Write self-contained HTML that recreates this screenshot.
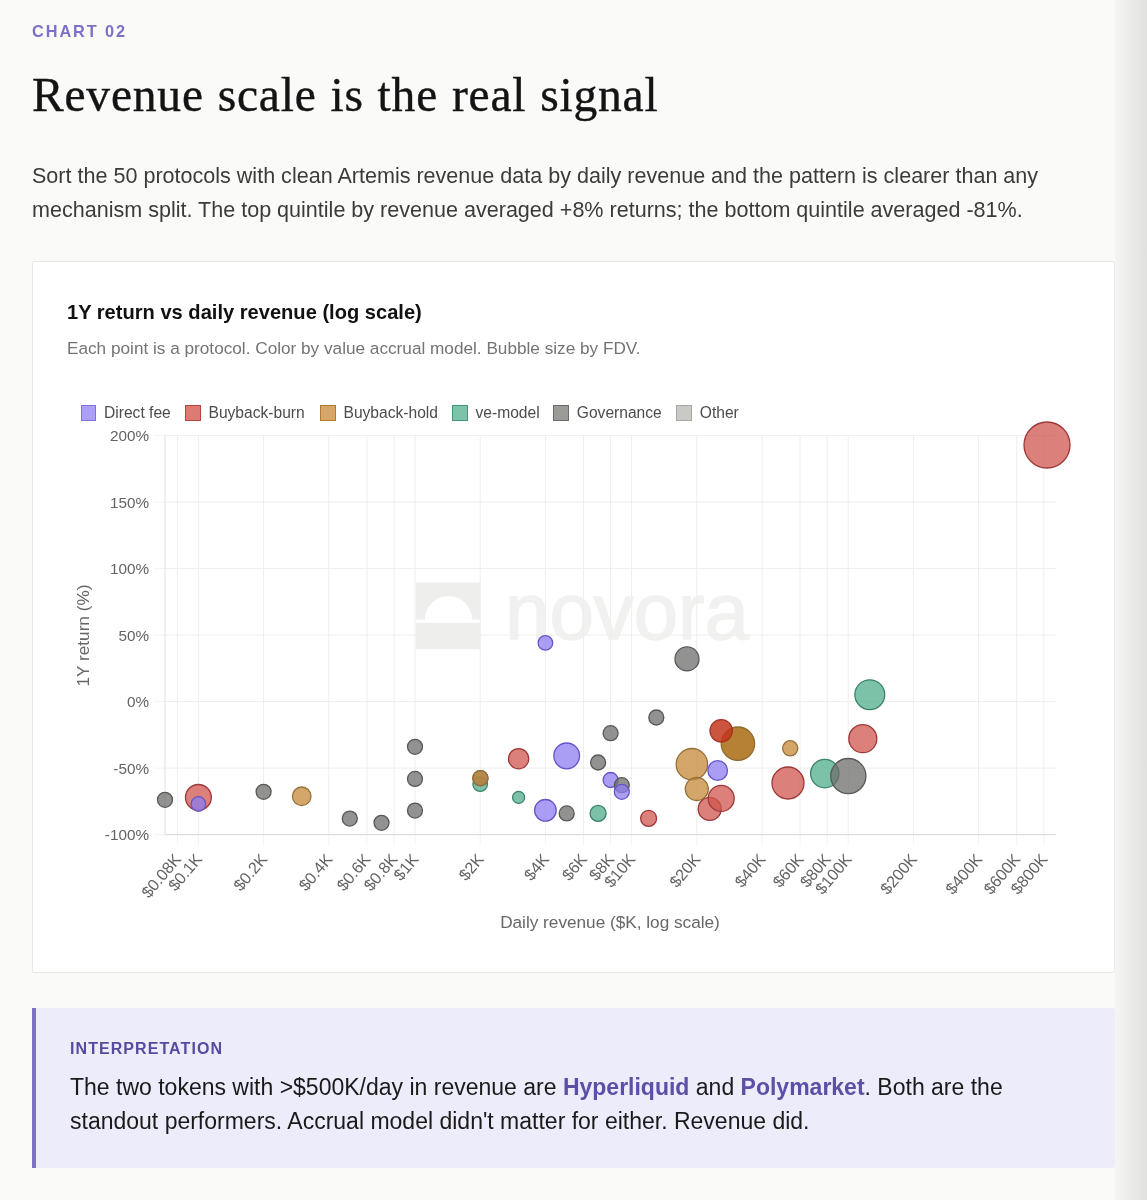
<!DOCTYPE html>
<html lang="en"><head><meta charset="utf-8"><title>Chart 02 - Revenue scale is the real signal</title>
<style>
*{box-sizing:border-box;margin:0;padding:0}
html,body{width:1147px;height:1200px;overflow:hidden}
body{background:#fafaf8;font-family:"Liberation Sans",Arial,Helvetica,sans-serif;position:relative;color:#1a1a1a}
.edge{position:absolute;left:1115px;top:0;width:32px;height:1200px;background:linear-gradient(90deg,#f5f5f3 0%,#f0f0ee 25%,#e9e9e7 60%,#dfdfdd 100%)}
.kicker{position:absolute;left:32px;top:20.5px;font-size:16.3px;line-height:20px;font-weight:700;letter-spacing:1.93px;color:#7d70c8}
h1{position:absolute;left:32px;top:62.7px;font-family:"Liberation Serif","Times New Roman",serif;font-weight:400;font-size:47.5px;line-height:64px;color:#141414;white-space:nowrap;letter-spacing:.8px;word-spacing:1.2px;-webkit-text-stroke:.4px #141414}
.lede{position:absolute;left:32px;top:159.2px;width:1060px;font-size:21.55px;line-height:34.1px;color:#3b3b3b}
.lede span{display:block;white-space:nowrap}
.card{position:absolute;left:32px;top:261px;width:1083px;height:712px;background:#fff;border:1px solid #e9e9e6;border-radius:2px}
.ctitle{position:absolute;left:67px;top:300px;font-size:20.1px;line-height:24px;font-weight:700;color:#111;white-space:nowrap}
.csub{position:absolute;left:67px;top:337px;font-size:17.2px;line-height:22px;color:#747472;white-space:nowrap}
.legend{position:absolute;left:0;top:0}
.lg{position:absolute;top:403px;height:20px;font-size:15.6px;line-height:20px;color:#4c4c4c;white-space:nowrap}
.lg i{position:absolute;left:0;top:2px;width:15.5px;height:15.5px;border:1px solid}
.lg b{position:absolute;left:23.5px;top:0;font-weight:400}
svg.chart{position:absolute;left:0;top:0}
svg.chart text{font-family:"Liberation Sans",Arial,sans-serif}
svg.chart .tk{font-size:16.2px;fill:#646464}
svg.chart .ax{font-size:17.2px;fill:#676767}
svg.chart .ty{font-size:15.3px}
.note{position:absolute;left:32px;top:1008px;width:1083px;height:160px;background:#edecfb;border-left:4px solid #7d70c8;border-radius:0 3px 3px 0}
.nlabel{position:absolute;left:70px;top:1038.6px;font-size:16px;line-height:20px;font-weight:700;letter-spacing:1.07px;color:#564b9f;white-space:nowrap}
.ntext{position:absolute;left:70px;top:1069.6px;font-size:23px;line-height:34.5px;color:#1a1a1a}
.ntext span{display:block;white-space:nowrap}
.ntext strong{color:#5b4fa6;font-weight:700}
</style></head><body>
<div class="edge"></div>
<div class="kicker">CHART 02</div>
<h1>Revenue scale is the real signal</h1>
<p class="lede"><span>Sort the 50 protocols with clean Artemis revenue data by daily revenue and the pattern is clearer than any</span><span>mechanism split. The top quintile by revenue averaged +8% returns; the bottom quintile averaged -81%.</span></p>
<div class="card"></div>
<div class="ctitle">1Y return vs daily revenue (log scale)</div>
<div class="csub">Each point is a protocol. Color by value accrual model. Bubble size by FDV.</div>
<svg class="chart" width="1147" height="1200" viewBox="0 0 1147 1200">
<g class="wm"><path fill="#eeeeed" fill-rule="evenodd" d="M415.8 582.5h64.5v66.8h-64.5z M415.8 619.5 h9.2 a23.5 23.5 0 0 1 47 0 h8.3 v3.3 h-64.5z"/><text x="505" y="638.5" font-size="79" fill="#f1f1f0" stroke="#f1f1f0" stroke-width="1.5" stroke-linejoin="round" textLength="244" lengthAdjust="spacingAndGlyphs">novora</text></g>
<line x1="177.4" y1="435.6" x2="177.4" y2="834.6" stroke="#efeeeb" stroke-width="1"/>
<line x1="177.4" y1="834.6" x2="177.4" y2="845.6" stroke="#f5f4f2" stroke-width="1"/>
<line x1="198.4" y1="435.6" x2="198.4" y2="834.6" stroke="#efeeeb" stroke-width="1"/>
<line x1="198.4" y1="834.6" x2="198.4" y2="845.6" stroke="#f5f4f2" stroke-width="1"/>
<line x1="263.6" y1="435.6" x2="263.6" y2="834.6" stroke="#efeeeb" stroke-width="1"/>
<line x1="263.6" y1="834.6" x2="263.6" y2="845.6" stroke="#f5f4f2" stroke-width="1"/>
<line x1="328.8" y1="435.6" x2="328.8" y2="834.6" stroke="#efeeeb" stroke-width="1"/>
<line x1="328.8" y1="834.6" x2="328.8" y2="845.6" stroke="#f5f4f2" stroke-width="1"/>
<line x1="366.9" y1="435.6" x2="366.9" y2="834.6" stroke="#efeeeb" stroke-width="1"/>
<line x1="366.9" y1="834.6" x2="366.9" y2="845.6" stroke="#f5f4f2" stroke-width="1"/>
<line x1="394.0" y1="435.6" x2="394.0" y2="834.6" stroke="#efeeeb" stroke-width="1"/>
<line x1="394.0" y1="834.6" x2="394.0" y2="845.6" stroke="#f5f4f2" stroke-width="1"/>
<line x1="415.0" y1="435.6" x2="415.0" y2="834.6" stroke="#efeeeb" stroke-width="1"/>
<line x1="415.0" y1="834.6" x2="415.0" y2="845.6" stroke="#f5f4f2" stroke-width="1"/>
<line x1="480.2" y1="435.6" x2="480.2" y2="834.6" stroke="#efeeeb" stroke-width="1"/>
<line x1="480.2" y1="834.6" x2="480.2" y2="845.6" stroke="#f5f4f2" stroke-width="1"/>
<line x1="545.4" y1="435.6" x2="545.4" y2="834.6" stroke="#efeeeb" stroke-width="1"/>
<line x1="545.4" y1="834.6" x2="545.4" y2="845.6" stroke="#f5f4f2" stroke-width="1"/>
<line x1="583.5" y1="435.6" x2="583.5" y2="834.6" stroke="#efeeeb" stroke-width="1"/>
<line x1="583.5" y1="834.6" x2="583.5" y2="845.6" stroke="#f5f4f2" stroke-width="1"/>
<line x1="610.6" y1="435.6" x2="610.6" y2="834.6" stroke="#efeeeb" stroke-width="1"/>
<line x1="610.6" y1="834.6" x2="610.6" y2="845.6" stroke="#f5f4f2" stroke-width="1"/>
<line x1="631.6" y1="435.6" x2="631.6" y2="834.6" stroke="#efeeeb" stroke-width="1"/>
<line x1="631.6" y1="834.6" x2="631.6" y2="845.6" stroke="#f5f4f2" stroke-width="1"/>
<line x1="696.8" y1="435.6" x2="696.8" y2="834.6" stroke="#efeeeb" stroke-width="1"/>
<line x1="696.8" y1="834.6" x2="696.8" y2="845.6" stroke="#f5f4f2" stroke-width="1"/>
<line x1="762.0" y1="435.6" x2="762.0" y2="834.6" stroke="#efeeeb" stroke-width="1"/>
<line x1="762.0" y1="834.6" x2="762.0" y2="845.6" stroke="#f5f4f2" stroke-width="1"/>
<line x1="800.1" y1="435.6" x2="800.1" y2="834.6" stroke="#efeeeb" stroke-width="1"/>
<line x1="800.1" y1="834.6" x2="800.1" y2="845.6" stroke="#f5f4f2" stroke-width="1"/>
<line x1="827.2" y1="435.6" x2="827.2" y2="834.6" stroke="#efeeeb" stroke-width="1"/>
<line x1="827.2" y1="834.6" x2="827.2" y2="845.6" stroke="#f5f4f2" stroke-width="1"/>
<line x1="848.2" y1="435.6" x2="848.2" y2="834.6" stroke="#efeeeb" stroke-width="1"/>
<line x1="848.2" y1="834.6" x2="848.2" y2="845.6" stroke="#f5f4f2" stroke-width="1"/>
<line x1="913.4" y1="435.6" x2="913.4" y2="834.6" stroke="#efeeeb" stroke-width="1"/>
<line x1="913.4" y1="834.6" x2="913.4" y2="845.6" stroke="#f5f4f2" stroke-width="1"/>
<line x1="978.6" y1="435.6" x2="978.6" y2="834.6" stroke="#efeeeb" stroke-width="1"/>
<line x1="978.6" y1="834.6" x2="978.6" y2="845.6" stroke="#f5f4f2" stroke-width="1"/>
<line x1="1016.7" y1="435.6" x2="1016.7" y2="834.6" stroke="#efeeeb" stroke-width="1"/>
<line x1="1016.7" y1="834.6" x2="1016.7" y2="845.6" stroke="#f5f4f2" stroke-width="1"/>
<line x1="1043.8" y1="435.6" x2="1043.8" y2="834.6" stroke="#efeeeb" stroke-width="1"/>
<line x1="1043.8" y1="834.6" x2="1043.8" y2="845.6" stroke="#f5f4f2" stroke-width="1"/>
<line x1="165.0" y1="435.6" x2="1055.6" y2="435.6" stroke="#efeeeb" stroke-width="1"/>
<line x1="154.0" y1="435.6" x2="165.0" y2="435.6" stroke="#f5f4f2" stroke-width="1"/>
<line x1="165.0" y1="502.1" x2="1055.6" y2="502.1" stroke="#efeeeb" stroke-width="1"/>
<line x1="154.0" y1="502.1" x2="165.0" y2="502.1" stroke="#f5f4f2" stroke-width="1"/>
<line x1="165.0" y1="568.6" x2="1055.6" y2="568.6" stroke="#efeeeb" stroke-width="1"/>
<line x1="154.0" y1="568.6" x2="165.0" y2="568.6" stroke="#f5f4f2" stroke-width="1"/>
<line x1="165.0" y1="635.1" x2="1055.6" y2="635.1" stroke="#efeeeb" stroke-width="1"/>
<line x1="154.0" y1="635.1" x2="165.0" y2="635.1" stroke="#f5f4f2" stroke-width="1"/>
<line x1="165.0" y1="701.6" x2="1055.6" y2="701.6" stroke="#efeeeb" stroke-width="1"/>
<line x1="154.0" y1="701.6" x2="165.0" y2="701.6" stroke="#f5f4f2" stroke-width="1"/>
<line x1="165.0" y1="768.1" x2="1055.6" y2="768.1" stroke="#efeeeb" stroke-width="1"/>
<line x1="154.0" y1="768.1" x2="165.0" y2="768.1" stroke="#f5f4f2" stroke-width="1"/>
<line x1="165.0" y1="834.6" x2="1055.6" y2="834.6" stroke="#efeeeb" stroke-width="1"/>
<line x1="154.0" y1="834.6" x2="165.0" y2="834.6" stroke="#f5f4f2" stroke-width="1"/>
<line x1="165.0" y1="435.6" x2="165.0" y2="834.6" stroke="#e6e5e2" stroke-width="1.2"/>
<line x1="165.0" y1="834.6" x2="1055.6" y2="834.6" stroke="#dfdedb" stroke-width="1.4"/>
<text class="tk ty" x="149" y="441.4" text-anchor="end">200%</text>
<text class="tk ty" x="149" y="507.9" text-anchor="end">150%</text>
<text class="tk ty" x="149" y="574.4" text-anchor="end">100%</text>
<text class="tk ty" x="149" y="640.9" text-anchor="end">50%</text>
<text class="tk ty" x="149" y="707.4" text-anchor="end">0%</text>
<text class="tk ty" x="149" y="773.9" text-anchor="end">-50%</text>
<text class="tk ty" x="149" y="840.4" text-anchor="end">-100%</text>
<text class="tk" transform="translate(178.1,856.4) rotate(-50)" text-anchor="end" y="5">$0.08K</text>
<text class="tk" transform="translate(199.1,856.4) rotate(-50)" text-anchor="end" y="5">$0.1K</text>
<text class="tk" transform="translate(264.3,856.4) rotate(-50)" text-anchor="end" y="5">$0.2K</text>
<text class="tk" transform="translate(329.5,856.4) rotate(-50)" text-anchor="end" y="5">$0.4K</text>
<text class="tk" transform="translate(367.6,856.4) rotate(-50)" text-anchor="end" y="5">$0.6K</text>
<text class="tk" transform="translate(394.7,856.4) rotate(-50)" text-anchor="end" y="5">$0.8K</text>
<text class="tk" transform="translate(415.7,856.4) rotate(-50)" text-anchor="end" y="5">$1K</text>
<text class="tk" transform="translate(480.9,856.4) rotate(-50)" text-anchor="end" y="5">$2K</text>
<text class="tk" transform="translate(546.1,856.4) rotate(-50)" text-anchor="end" y="5">$4K</text>
<text class="tk" transform="translate(584.2,856.4) rotate(-50)" text-anchor="end" y="5">$6K</text>
<text class="tk" transform="translate(611.3,856.4) rotate(-50)" text-anchor="end" y="5">$8K</text>
<text class="tk" transform="translate(632.3,856.4) rotate(-50)" text-anchor="end" y="5">$10K</text>
<text class="tk" transform="translate(697.5,856.4) rotate(-50)" text-anchor="end" y="5">$20K</text>
<text class="tk" transform="translate(762.7,856.4) rotate(-50)" text-anchor="end" y="5">$40K</text>
<text class="tk" transform="translate(800.8,856.4) rotate(-50)" text-anchor="end" y="5">$60K</text>
<text class="tk" transform="translate(827.9,856.4) rotate(-50)" text-anchor="end" y="5">$80K</text>
<text class="tk" transform="translate(848.9,856.4) rotate(-50)" text-anchor="end" y="5">$100K</text>
<text class="tk" transform="translate(914.1,856.4) rotate(-50)" text-anchor="end" y="5">$200K</text>
<text class="tk" transform="translate(979.3,856.4) rotate(-50)" text-anchor="end" y="5">$400K</text>
<text class="tk" transform="translate(1017.4,856.4) rotate(-50)" text-anchor="end" y="5">$600K</text>
<text class="tk" transform="translate(1044.5,856.4) rotate(-50)" text-anchor="end" y="5">$800K</text>
<text class="ax" x="610" y="927.7" text-anchor="middle">Daily revenue ($K, log scale)</text>
<text class="ax" transform="translate(88.7,635.5) rotate(-90)" text-anchor="middle">1Y return (%)</text>
<circle cx="165" cy="799.8" r="7.5" fill="#6e6e6c" fill-opacity="0.75" stroke="#585856" stroke-width="1.3"/>
<circle cx="198.4" cy="797.4" r="12.9" fill="#cf564e" fill-opacity="0.75" stroke="#9e3838" stroke-width="1.3"/>
<circle cx="198.4" cy="804" r="7.3" fill="#8d7cf0" fill-opacity="0.75" stroke="#6556c8" stroke-width="1.3"/>
<circle cx="263.6" cy="791.8" r="7.5" fill="#6e6e6c" fill-opacity="0.75" stroke="#585856" stroke-width="1.3"/>
<circle cx="301.7" cy="796.3" r="9.3" fill="#c68838" fill-opacity="0.75" stroke="#94703a" stroke-width="1.3"/>
<circle cx="349.8" cy="818.6" r="7.5" fill="#6e6e6c" fill-opacity="0.75" stroke="#585856" stroke-width="1.3"/>
<circle cx="381.5" cy="822.8" r="7.5" fill="#6e6e6c" fill-opacity="0.75" stroke="#585856" stroke-width="1.3"/>
<circle cx="415" cy="746.8" r="7.5" fill="#6e6e6c" fill-opacity="0.75" stroke="#585856" stroke-width="1.3"/>
<circle cx="415" cy="778.9" r="7.5" fill="#6e6e6c" fill-opacity="0.75" stroke="#585856" stroke-width="1.3"/>
<circle cx="415" cy="810.6" r="7.5" fill="#6e6e6c" fill-opacity="0.75" stroke="#585856" stroke-width="1.3"/>
<circle cx="480.2" cy="784.1" r="7.3" fill="#4fae8c" fill-opacity="0.75" stroke="#3a8268" stroke-width="1.3"/>
<circle cx="480.4" cy="778.2" r="7.5" fill="#6e6e6c" fill-opacity="0.75" stroke="#585856" stroke-width="1.3"/>
<circle cx="480.4" cy="778.2" r="7.6" fill="#c68838" fill-opacity="0.75" stroke="#94703a" stroke-width="1.3"/>
<circle cx="518.6" cy="758.7" r="10.1" fill="#cf564e" fill-opacity="0.75" stroke="#9e3838" stroke-width="1.3"/>
<circle cx="518.6" cy="797.4" r="6" fill="#4fae8c" fill-opacity="0.75" stroke="#3a8268" stroke-width="1.3"/>
<circle cx="545.4" cy="642.9" r="7.3" fill="#8d7cf0" fill-opacity="0.75" stroke="#6556c8" stroke-width="1.3"/>
<circle cx="566.7" cy="755.9" r="12.9" fill="#8d7cf0" fill-opacity="0.75" stroke="#6556c8" stroke-width="1.3"/>
<circle cx="545.4" cy="810.3" r="10.8" fill="#8d7cf0" fill-opacity="0.75" stroke="#6556c8" stroke-width="1.3"/>
<circle cx="566.7" cy="813.4" r="7.5" fill="#6e6e6c" fill-opacity="0.75" stroke="#585856" stroke-width="1.3"/>
<circle cx="598.1" cy="813.4" r="8" fill="#4fae8c" fill-opacity="0.75" stroke="#3a8268" stroke-width="1.3"/>
<circle cx="598.1" cy="762.5" r="7.5" fill="#6e6e6c" fill-opacity="0.75" stroke="#585856" stroke-width="1.3"/>
<circle cx="610.6" cy="733.2" r="7.5" fill="#6e6e6c" fill-opacity="0.75" stroke="#585856" stroke-width="1.3"/>
<circle cx="610.6" cy="780" r="7.5" fill="#8d7cf0" fill-opacity="0.75" stroke="#6556c8" stroke-width="1.3"/>
<circle cx="621.8" cy="785.2" r="7.5" fill="#6e6e6c" fill-opacity="0.75" stroke="#585856" stroke-width="1.3"/>
<circle cx="621.8" cy="791.8" r="7.5" fill="#8d7cf0" fill-opacity="0.75" stroke="#6556c8" stroke-width="1.3"/>
<circle cx="648.6" cy="818.3" r="8" fill="#cf564e" fill-opacity="0.75" stroke="#9e3838" stroke-width="1.3"/>
<circle cx="656.3" cy="717.5" r="7.5" fill="#6e6e6c" fill-opacity="0.75" stroke="#585856" stroke-width="1.3"/>
<circle cx="687" cy="658.9" r="12" fill="#6e6e6c" fill-opacity="0.75" stroke="#585856" stroke-width="1.3"/>
<circle cx="691.9" cy="764.2" r="15.7" fill="#c68838" fill-opacity="0.75" stroke="#94703a" stroke-width="1.3"/>
<circle cx="696.8" cy="789" r="11.5" fill="#c68838" fill-opacity="0.75" stroke="#94703a" stroke-width="1.3"/>
<circle cx="709.7" cy="808.9" r="11.5" fill="#cf564e" fill-opacity="0.75" stroke="#9e3838" stroke-width="1.3"/>
<circle cx="721.2" cy="798.4" r="13" fill="#cf564e" fill-opacity="0.75" stroke="#9e3838" stroke-width="1.3"/>
<circle cx="717.7" cy="770.5" r="9.8" fill="#8d7cf0" fill-opacity="0.75" stroke="#6556c8" stroke-width="1.3"/>
<circle cx="737.9" cy="743.7" r="16.7" fill="#a8690e" fill-opacity="0.84" stroke="#8f6a2a" stroke-width="1.3"/>
<circle cx="721.2" cy="730.8" r="11.2" fill="#c2351a" fill-opacity="0.84" stroke="#a83426" stroke-width="1.3"/>
<circle cx="790.2" cy="748.3" r="7.6" fill="#c68838" fill-opacity="0.75" stroke="#94703a" stroke-width="1.3"/>
<circle cx="788" cy="783" r="16" fill="#cf564e" fill-opacity="0.75" stroke="#9e3838" stroke-width="1.3"/>
<circle cx="824.8" cy="773.6" r="14.2" fill="#4fae8c" fill-opacity="0.75" stroke="#3a8268" stroke-width="1.3"/>
<circle cx="848.3" cy="776.1" r="17.6" fill="#6e6e6c" fill-opacity="0.75" stroke="#585856" stroke-width="1.3"/>
<circle cx="862.8" cy="738.7" r="14" fill="#cf564e" fill-opacity="0.75" stroke="#9e3838" stroke-width="1.3"/>
<circle cx="869.8" cy="694.7" r="14.9" fill="#4fae8c" fill-opacity="0.75" stroke="#3a8268" stroke-width="1.3"/>
<circle cx="1047" cy="445" r="23" fill="#cf564e" fill-opacity="0.75" stroke="#9e3838" stroke-width="1.3"/>
</svg>
<div class="legend">
<div class="lg" style="left:80.5px"><i style="background:#aba0f5;border-color:#7f70e0"></i><b>Direct fee</b></div>
<div class="lg" style="left:185px"><i style="background:#dc7b74;border-color:#b8433c"></i><b>Buyback-burn</b></div>
<div class="lg" style="left:320px"><i style="background:#d6a668;border-color:#b07a30"></i><b>Buyback-hold</b></div>
<div class="lg" style="left:452px"><i style="background:#7cc3a9;border-color:#3f9877"></i><b>ve-model</b></div>
<div class="lg" style="left:553.3px"><i style="background:#9b9b98;border-color:#6a6a68"></i><b>Governance</b></div>
<div class="lg" style="left:676.3px"><i style="background:#c9c9c6;border-color:#a5a5a2"></i><b>Other</b></div>
</div>
<div class="note"></div>
<div class="nlabel">INTERPRETATION</div>
<p class="ntext"><span>The two tokens with &gt;$500K/day in revenue are <strong>Hyperliquid</strong> and <strong>Polymarket</strong>. Both are the</span><span>standout performers. Accrual model didn't matter for either. Revenue did.</span></p>
</body></html>
